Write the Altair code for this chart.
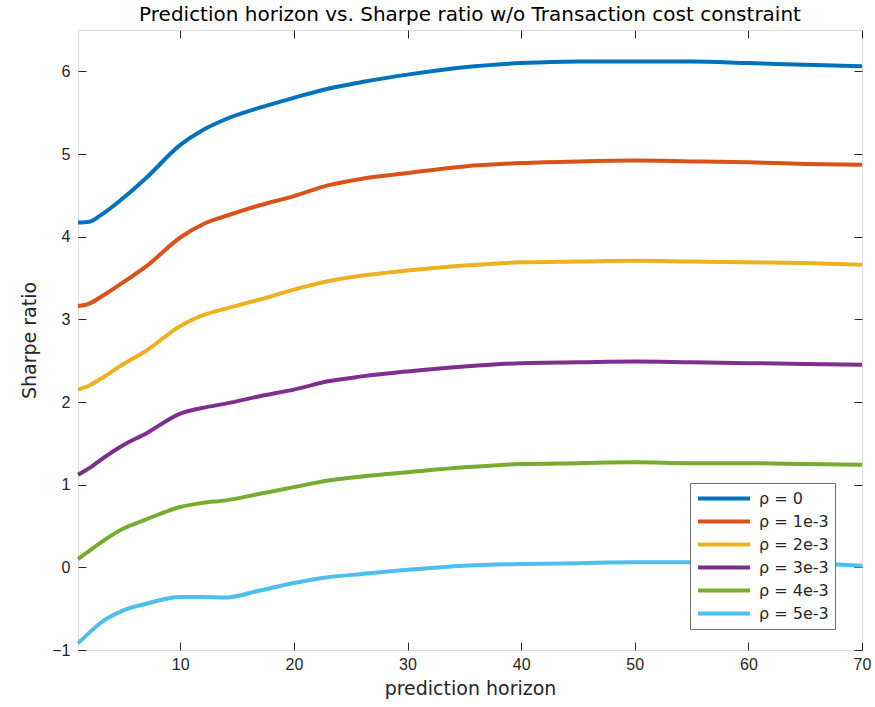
import altair as alt
import pandas as pd

horizon = [1, 2, 3, 5, 7, 10, 12, 14, 17, 20, 23, 26, 30, 35, 40, 45, 50, 55, 60, 65, 70]

rho_0 = [4.17, 4.18, 4.26, 4.47, 4.71, 5.11, 5.29, 5.42, 5.56, 5.68, 5.79, 5.87, 5.96, 6.05, 6.10, 6.12, 6.12, 6.12, 6.10, 6.08, 6.06]
rho_1 = [3.16, 3.19, 3.27, 3.45, 3.64, 3.99, 4.15, 4.25, 4.38, 4.49, 4.62, 4.70, 4.77, 4.85, 4.89, 4.91, 4.92, 4.91, 4.90, 4.88, 4.87]
rho_2 = [2.15, 2.20, 2.28, 2.46, 2.62, 2.92, 3.05, 3.13, 3.24, 3.36, 3.46, 3.53, 3.59, 3.65, 3.69, 3.70, 3.71, 3.70, 3.69, 3.68, 3.66]
rho_3 = [1.12, 1.20, 1.30, 1.48, 1.62, 1.86, 1.93, 1.98, 2.07, 2.15, 2.25, 2.31, 2.37, 2.43, 2.47, 2.48, 2.49, 2.48, 2.47, 2.46, 2.45]
rho_4 = [0.10, 0.20, 0.30, 0.47, 0.58, 0.73, 0.78, 0.81, 0.89, 0.97, 1.05, 1.10, 1.15, 1.21, 1.25, 1.26, 1.27, 1.26, 1.26, 1.25, 1.24]
rho_5 = [-0.92, -0.79, -0.67, -0.52, -0.44, -0.36, -0.36, -0.365, -0.28, -0.19, -0.12, -0.08, -0.03, 0.02, 0.04, 0.05, 0.06, 0.06, 0.06, 0.05, 0.02]

series_labels = ["ρ = 0", "ρ = 1e-3", "ρ = 2e-3", "ρ = 3e-3", "ρ = 4e-3", "ρ = 5e-3"]
series_colors = ["#0072BD", "#D95319", "#EDB120", "#7E2F8E", "#77AC30", "#4DBEEE"]
x_ticks = [10, 20, 30, 40, 50, 60, 70]
y_ticks = [-1, 0, 1, 2, 3, 4, 5, 6]

rows = []
for lab, vals in zip(series_labels, [rho_0, rho_1, rho_2, rho_3, rho_4, rho_5]):
    for h, v in zip(horizon, vals):
        rows.append({"h": h, "s": v, "series": lab})
df = pd.DataFrame(rows)

NUMFONT = "Liberation Sans"
WFONT = "DejaVu Sans"
TXT = "#262626"
TICK = 8

xscale = alt.Scale(domain=[1, 70], nice=False, zero=False)
yscale = alt.Scale(domain=[-1, 6.5], nice=False, zero=False)

lines = alt.Chart(df).mark_line(strokeWidth=4, interpolate="monotone").encode(
    x=alt.X("h:Q", scale=xscale, axis=alt.Axis(
        orient="bottom", values=x_ticks, title="prediction horizon", offset=-TICK,
        tickSize=TICK, domain=False, grid=False, labelPadding=6, tickColor=TXT,
        labelFlush=False, labelOverlap=False,
        labelFont=NUMFONT, labelFontSize=16, labelColor=TXT, titleFont=WFONT,
        titleFontSize=19, titleFontWeight="normal", titleColor=TXT, titlePadding=7)),
    y=alt.Y("s:Q", scale=yscale, axis=alt.Axis(
        orient="left", values=y_ticks, title="Sharpe ratio", offset=-TICK,
        tickSize=TICK, domain=False, grid=False, labelPadding=8, tickColor=TXT,
        labelFlush=False, labelOverlap=False,
        labelFont=NUMFONT, labelFontSize=16, labelColor=TXT, titleFont=WFONT,
        titleFontSize=19, titleFontWeight="normal", titleColor=TXT, titlePadding=12)),
    color=alt.Color("series:N", scale=alt.Scale(domain=series_labels, range=series_colors),
                    legend=alt.Legend(title=None, orient="none", legendX=612, legendY=453,
                                      symbolType="stroke", symbolSize=2704, symbolStrokeWidth=4,
                                      clipHeight=19, rowPadding=4,
                                      labelFont=WFONT, labelFontSize=16, labelColor=TXT,
                                      fillColor="white", strokeColor="#707070", padding=6,
                                      labelOffset=7)),
)

ghost = alt.Chart(df).mark_line(opacity=0).encode(
    x=alt.X("h:Q", scale=xscale, axis=alt.Axis(
        orient="top", values=x_ticks, title=None, offset=-TICK, tickSize=TICK,
        domain=False, grid=False, labels=False, tickColor=TXT)),
    y=alt.Y("s:Q", scale=yscale, axis=alt.Axis(
        orient="right", values=y_ticks, title=None, offset=-TICK, tickSize=TICK,
        domain=False, grid=False, labels=False, tickColor=TXT)),
    detail="series:N",
)

chart = alt.layer(lines, ghost).resolve_axis(x="independent", y="independent").properties(
    width=784, height=620,
    title=alt.Title("Prediction horizon vs. Sharpe ratio w/o Transaction cost constraint",
                    font=WFONT, fontSize=20, fontWeight="normal", color="#000000",
                    anchor="middle", offset=5),
    autosize=alt.AutoSizeParams(type="none"),
    padding={"left": 78, "top": 30, "right": 13, "bottom": 57},
).configure_view(stroke="#8a8a8a", strokeWidth=1.5).configure(background="white")

chart.save("out.html", embed_options={"renderer": "svg", "actions": False})
